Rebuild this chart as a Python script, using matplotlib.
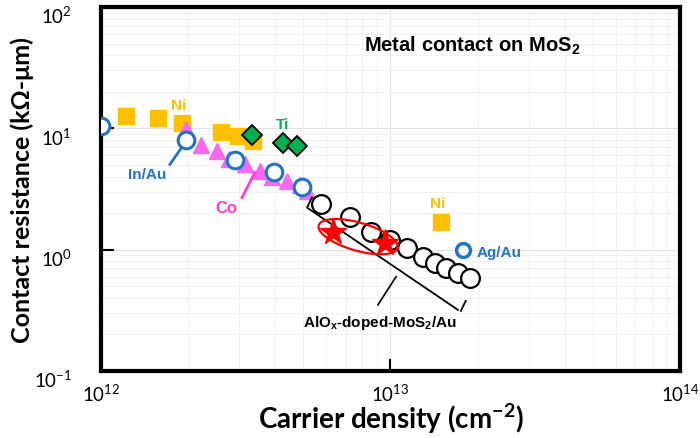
import numpy as np
import matplotlib
matplotlib.use("Agg")
import matplotlib.pyplot as plt
from matplotlib.transforms import ScaledTranslation

plt.rcParams['font.family'] = ['Lato', 'DejaVu Sans']
plt.rcParams['mathtext.fontset'] = 'custom'
plt.rcParams['mathtext.rm'] = 'Lato:bold'
plt.rcParams['mathtext.it'] = 'Lato:italic'
plt.rcParams['mathtext.bf'] = 'Lato:bold'

# data (carrier density cm^-2, contact resistance kOhm-um)
ni_x = [1.22e12, 1.57e12, 1.9e12, 2.6e12, 2.97e12, 3.35e12, 1.5e13]
ni_y = [12.6, 12.1, 11.0, 9.4, 8.6, 7.9, 1.7]

ti_x = [3.32e12, 4.25e12, 4.75e12]
ti_y = [8.75, 7.5, 7.1]

co_x = [1.97e12, 2.22e12, 2.52e12, 2.77e12, 3.14e12, 3.54e12, 3.9e12, 4.39e12, 4.87e12, 5.15e12]
co_y = [9.8, 7.25, 6.46, 5.55, 5.04, 4.41, 3.94, 3.65, 3.38, 3.07]

inau_x = [1.0e12, 1.97e12, 2.9e12, 3.96e12, 4.95e12]
inau_y = [10.5, 7.96, 5.5, 4.4, 3.3]

agau_x = [1.78e13]
agau_y = [1.0]

alox_x = [5.75e12, 7.25e12, 8.57e12, 9.96e12, 1.14e13, 1.29e13, 1.43e13, 1.56e13, 1.71e13, 1.88e13]
alox_y = [2.40, 1.87, 1.41, 1.21, 1.04, 0.875, 0.78, 0.71, 0.645, 0.587]

star_x = [6.33e12, 9.57e12]
star_y = [1.41, 1.14]

# slope guide next to the AlOx-doped points
guide_x = [5.35e12, 5.15e12, 1.71e13]
guide_y = [2.69, 2.22, 0.319]
guide_end_x = [1.75e13, 1.82e13]
guide_end_y = [0.313, 0.379]

orange = '#FFC000'
green = '#00B050'
blue = '#2273C3'
violet = '#F56AF0'
pink = '#FF3CCF'

fig = plt.figure(figsize=(7, 4.39), dpi=100)
ax = fig.add_axes([0.1443, 0.1526, 0.8271, 0.8292])
ax.set_xscale('log')
ax.set_yscale('log')
ax.set_xlim(1e12, 1e14)
ax.set_ylim(0.1, 100)

ax.grid(True, which='major', color='#e2e2e2', lw=0.8)
ax.grid(True, which='minor', color='#efefef', lw=0.6)
ax.set_axisbelow(True)

ax.plot(ni_x, ni_y, 's', color=orange, ms=11.5, mec=orange, zorder=3)
ax.plot(ti_x, ti_y, 'D', color=green, ms=10, mec='black', mew=1.3, zorder=4)
ax.plot(co_x, co_y, '^', color=violet, ms=11, mec=violet, zorder=3)
ax.plot(inau_x, inau_y, 'o', mfc='white', mec=blue, mew=2.2, ms=12, zorder=4)
ax.plot(agau_x, agau_y, 'o', mfc='white', mec=blue, mew=2.5, ms=10, zorder=4)
ax.plot(alox_x, alox_y, 'o', mfc='white', mec='black', mew=1.6, ms=13.5, zorder=4)
ax.plot(star_x, star_y, '*', color='red', ms=20, mec='red', zorder=6)

ax.plot(guide_x, guide_y, color='black', lw=1.3, zorder=5)
ax.plot(guide_end_x, guide_end_y, color='black', lw=1.3, zorder=5)

# red ellipse round the stars, in log space
t = np.linspace(0, 2 * np.pi, 200)
ang = np.deg2rad(-16)
cx, cy = np.log10(7.73e12), np.log10(1.28)
dxp = 41 * np.cos(t) * np.cos(ang) - 14 * np.sin(t) * np.sin(ang)
dyp = 41 * np.cos(t) * np.sin(ang) + 14 * np.sin(t) * np.cos(ang)
ax.plot(10 ** (cx + dxp / 289.5), 10 ** (cy + dyp / 121.0), color='red', lw=1.6, zorder=7)

# pointer lines
ax.plot([1.73e12, 1.90e12], [5.04, 6.96], color=blue, lw=2, zorder=5)
ax.plot([3.07e12, 3.40e12], [2.69, 4.32], color=pink, lw=2, zorder=5)
ax.plot([9.05e12, 1.045e13], [0.351, 0.598], color='black', lw=1.2, zorder=5)

lab = dict(family=['Liberation Sans', 'DejaVu Sans'], fontweight='bold', ha='center', va='center')
ax.text(1.85e12, 15.5, 'Ni', color=orange, fontsize=11, **lab)
ax.text(4.25e12, 10.8, 'Ti', color=green, fontsize=11, **lab)
ax.text(1.44e12, 4.17, 'In/Au', color=blue, fontsize=11, **lab)
ax.text(2.72e12, 2.22, 'Co', color=pink, fontsize=12, **lab)
ax.text(1.46e13, 2.44, 'Ni', color=orange, fontsize=11, **lab)
ax.text(1.99e13, 0.96, 'Ag/Au', color=blue, fontsize=11,
        family=['Liberation Sans', 'DejaVu Sans'], fontweight='bold', ha='left', va='center')
ax.text(9.2e12, 0.254, r'AlO$_\mathregular{x}$-doped-MoS$_\mathregular{2}$/Au', color='black',
        fontsize=11, **lab)
ax.text(1.91e13, 49.4, r'Metal contact on MoS$_\mathregular{2}$', color='black', fontsize=14.5, **lab)

for s in ax.spines.values():
    s.set_linewidth(3)
ax.tick_params(which='major', direction='in', length=9, width=1.5, top=False, right=False)
ax.tick_params(which='minor', length=0)
ax.tick_params(axis='x', pad=8)
ax.tick_params(axis='y', pad=21)
ax.set_xticks([1e12, 1e13, 1e14])
ax.set_xticklabels([r'$\mathregular{10^{12}}$', r'$\mathregular{10^{13}}$', r'$\mathregular{10^{14}}$'],
                   fontsize=13.5)
ax.set_yticks([0.1, 1, 10, 100])
ax.set_yticklabels([r'$\mathregular{10^{-1}}$', r'$\mathregular{10^{0}}$', r'$\mathregular{10^{1}}$',
                    r'$\mathregular{10^{2}}$'], fontsize=13.5)
shift = ScaledTranslation(0, -5 / 72, fig.dpi_scale_trans)
for lbl in ax.get_yticklabels():
    lbl.set_transform(lbl.get_transform() + shift)

ax.set_xlabel(r'Carrier density (cm$^\mathregular{-2}$)', fontsize=20, fontweight='bold')
ax.xaxis.set_label_coords(0.5, -0.083)
ax.set_ylabel('Contact resistance (kΩ-μm)', fontsize=18, fontweight='bold')
ax.yaxis.set_label_coords(-0.115, 0.5)

fig.savefig('out.png', dpi=100)
